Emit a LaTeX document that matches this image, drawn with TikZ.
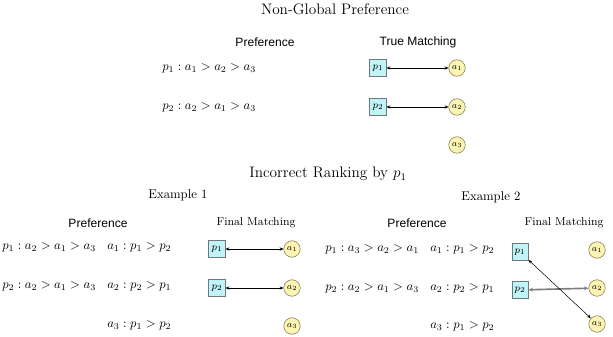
\documentclass[tikz,border=0pt]{standalone}
\usepackage{fontspec}
\setsansfont{Liberation Sans}
\usepackage{tikz}
\usetikzlibrary{arrows.meta,positioning}
\usepackage{amsmath}
\definecolor{agentfill}{RGB}{192,244,248}
\definecolor{agentdraw}{RGB}{110,120,125}
\definecolor{itemfill}{RGB}{252,244,178}
\definecolor{itemdraw}{RGB}{120,110,70}
\definecolor{edgegray}{RGB}{125,125,125}

\begin{document}
\begin{tikzpicture}[
  x=0.7874pt, y=-0.7874pt,
  agent/.style={draw=agentdraw, fill=agentfill, rectangle, minimum size=13pt,
                inner sep=1pt, font=\footnotesize},
  item/.style={draw=itemdraw, fill=itemfill, circle, minimum size=13pt,
               inner sep=0.5pt, font=\scriptsize},
  title/.style={font=\large},
  head/.style={font=\sffamily\fontsize{9.5}{11}\selectfont},
  pref/.style={anchor=west, inner sep=0pt},
  match/.style={draw, thin, {Stealth[length=3pt,width=2.5pt]}-{Stealth[length=3pt,width=2.5pt]}},
  wide/.style={draw=edgegray, line width=1.3pt, {Stealth[length=3.5pt,width=3pt]}-{Stealth[length=3.5pt,width=3pt]}}]
\useasboundingbox (0,0) rectangle (613,337);
% top panel
\node[title] (ngtitle) at (335,9) {Non-Global Preference};
\node[head] (ngpref) at (265,42) {Preference};
\node[head] (ngtrue) at (418,42) {True Matching};
\node[pref] (ngp1) at (162,68) {$p_1 : a_1 > a_2 > a_3$};
\node[pref] (ngp2) at (162,107) {$p_2 : a_2 > a_1 > a_3$};
\node[agent] (tp1) at (378,68) {$p_1$};
\node[agent] (tp2) at (378,107) {$p_2$};
\node[item] (ta1) at (457,68) {$a_1$};
\node[item] (ta2) at (457,107) {$a_2$};
\node[item] (ta3) at (457,145) {$a_3$};
\path (tp1) edge[match] (ta1);
\path (tp2) edge[match] (ta2);
% bottom panel
\node[title] (irtitle) at (328,174) {Incorrect Ranking by $p_1$};
% example 1
\node (exone) at (178,195) {Example 1};
\node[head] (onepref) at (98,223) {Preference};
\node[font=\small] (onefinal) at (256,223) {Final Matching};
\node[pref] (onep1) at (2,247) {$p_1 : a_2 > a_1 > a_3$};
\node[pref] (onep2) at (2,286) {$p_2 : a_2 > a_1 > a_3$};
\node[pref] (onea1) at (107,247) {$a_1 : p_1 > p_2$};
\node[pref] (onea2) at (107,286) {$a_2 : p_2 > p_1$};
\node[pref] (onea3) at (107,325) {$a_3 : p_1 > p_2$};
\node[agent] (fp1) at (217,249) {$p_1$};
\node[agent] (fp2) at (217,288) {$p_2$};
\node[item] (fa1) at (292,249) {$a_1$};
\node[item] (fa2) at (292,288) {$a_2$};
\node[item] (fa3) at (292,326) {$a_3$};
\path (fp1) edge[match] (fa1);
\path (fp2) edge[match] (fa2);
% example 2
\node (extwo) at (491,197) {Example 2};
\node[head] (twopref) at (417,223) {Preference};
\node[font=\small] (twofinal) at (564,223) {Final Matching};
\node[pref] (twop1) at (325,249) {$p_1 : a_3 > a_2 > a_1$};
\node[pref] (twop2) at (325,288) {$p_2 : a_2 > a_1 > a_3$};
\node[pref] (twoa1) at (430,249) {$a_1 : p_1 > p_2$};
\node[pref] (twoa2) at (430,288) {$a_2 : p_2 > p_1$};
\node[pref] (twoa3) at (430,326) {$a_3 : p_1 > p_2$};
\node[agent] (gp1) at (520,252) {$p_1$};
\node[agent] (gp2) at (520,290) {$p_2$};
\node[item] (ga1) at (597,250) {$a_1$};
\node[item] (ga2) at (597,288) {$a_2$};
\node[item] (ga3) at (597,324) {$a_3$};
\path (gp2) edge[wide] (ga2);
\path (gp1) edge[match] (ga3);
\end{tikzpicture}
\end{document}
